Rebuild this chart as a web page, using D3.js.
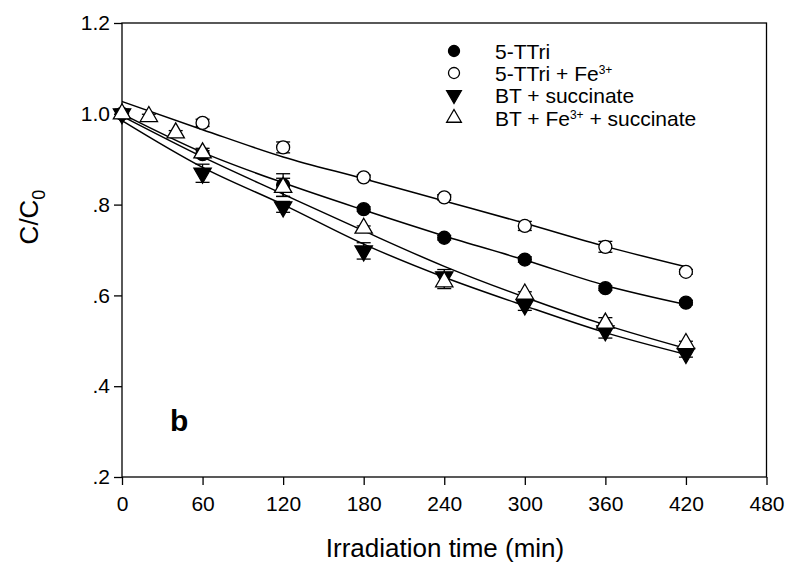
<!DOCTYPE html>
<html>
<head>
<meta charset="utf-8">
<script src="https://cdn.jsdelivr.net/npm/d3@7"></script>
<style>
  body { margin: 0; background: #fff; }
  svg text { font-family: "Liberation Sans", Arial, sans-serif; fill: #000; }
</style>
</head>
<body>
<div id="chart"></div>
<script>
var timesMain = [0, 60, 120, 180, 240, 300, 360, 420];
var timesBTFe = [0, 20, 40, 60, 120, 180, 240, 300, 360, 420];

var tTri      = [1.0, 0.911, 0.843, 0.790, 0.727, 0.679, 0.616, 0.584];
var tTriErr   = [0.005, 0.008, 0.025, 0.005, 0.005, 0.006, 0.005, 0.005];
var tTriFe    = [1.0, 0.980, 0.926, 0.860, 0.816, 0.753, 0.707, 0.652];
var tTriFeErr = [0.005, 0.008, 0.012, 0.005, 0.006, 0.010, 0.012, 0.005];
var btSucc    = [1.0, 0.869, 0.795, 0.698, 0.641, 0.579, 0.522, 0.472];
var btSuccErr = [0.006, 0.020, 0.012, 0.018, 0.016, 0.012, 0.016, 0.008];
var btFeSucc    = [1.0, 0.994, 0.958, 0.914, 0.838, 0.748, 0.630, 0.603, 0.539, 0.494];
var btFeSuccErr = [0.010, 0.005, 0.005, 0.010, 0.020, 0.005, 0.015, 0.005, 0.012, 0.005];

// Fitted curves (at each hour mark)
var fitTimes   = [0, 60, 120, 180, 240, 300, 360, 420];
var fitTTri    = [1.000, 0.915, 0.848, 0.788, 0.731, 0.678, 0.622, 0.580];
var fitTTriFe  = [1.027, 0.965, 0.905, 0.857, 0.808, 0.759, 0.708, 0.663];
var fitBtSucc  = [0.985, 0.882, 0.800, 0.713, 0.640, 0.577, 0.518, 0.470];
var fitBtFeSucc = [0.995, 0.905, 0.823, 0.742, 0.664, 0.596, 0.535, 0.483];

var xTicks = [0, 60, 120, 180, 240, 300, 360, 420, 480];
var yTicks = [0.2, 0.4, 0.6, 0.8, 1.0, 1.2];
var yTickLabels = [".2", ".4", ".6", ".8", "1.0", "1.2"];

var width = 787, height = 569;
var margin = { left: 122, top: 23, right: 20, bottom: 92 };

var svg = d3.select('#chart').append('svg')
    .attr('width', width)
    .attr('height', height);

var x = d3.scaleLinear().domain([0, 480]).range([margin.left, width - margin.right - 0.5]);
var y = d3.scaleLinear().domain([0.2, 1.2]).range([height - margin.bottom, margin.top]);

// frame
svg.append('rect')
    .attr('x', x(0)).attr('y', y(1.2))
    .attr('width', x(480) - x(0)).attr('height', y(0.2) - y(1.2))
    .attr('fill', 'none').attr('stroke', '#000').attr('stroke-width', 1.3);

// axes
var xAxis = svg.append('g')
    .attr('transform', 'translate(0,' + y(0.2) + ')')
    .call(d3.axisBottom(x).tickValues(xTicks).tickSize(8).tickPadding(11));
var yAxis = svg.append('g')
    .attr('transform', 'translate(' + x(0) + ',0)')
    .call(d3.axisLeft(y).tickValues(yTicks).tickSize(8).tickPadding(4)
        .tickFormat(function(d, i) { return yTickLabels[i]; }));
[xAxis, yAxis].forEach(function(g) {
    g.select('.domain').remove();
    g.selectAll('line').attr('stroke', '#000').attr('stroke-width', 1.3);
    g.selectAll('text').style('font-size', '21px').style('font-family', '"Liberation Sans", Arial, sans-serif');
});

// axis titles
svg.append('text')
    .attr('x', 445).attr('y', 557)
    .attr('text-anchor', 'middle')
    .style('font-size', '26px')
    .text('Irradiation time (min)');

var yTitle = svg.append('text')
    .attr('transform', 'translate(38,' + 217 + ') rotate(-90)')
    .attr('text-anchor', 'middle')
    .style('font-size', '26px');
yTitle.append('tspan').text('C/C');
yTitle.append('tspan').attr('dy', 7).style('font-size', '18px').text('0');

// panel label
svg.append('text')
    .attr('x', 170).attr('y', 431)
    .style('font-size', '30px').style('font-weight', 'bold')
    .text('b');

// fitted lines
var line = d3.line()
    .x(function(d) { return x(d[0]); })
    .y(function(d) { return y(d[1]); })
    .curve(d3.curveMonotoneX);

[fitTTri, fitTTriFe, fitBtSucc, fitBtFeSucc].forEach(function(fit) {
    svg.append('path')
        .datum(fitTimes.map(function(t, i) { return [t, fit[i]]; }))
        .attr('d', line)
        .attr('fill', 'none')
        .attr('stroke', '#000')
        .attr('stroke-width', 1.5);
});

var series = [
    { name: '5-TTri', t: timesMain, v: tTri, e: tTriErr, shape: 'circle', fill: '#000' },
    { name: '5-TTri + Fe', t: timesMain, v: tTriFe, e: tTriFeErr, shape: 'circle', fill: '#fff' },
    { name: 'BT + succinate', t: timesMain, v: btSucc, e: btSuccErr, shape: 'down', fill: '#000' },
    { name: 'BT + Fe + succinate', t: timesBTFe, v: btFeSucc, e: btFeSuccErr, shape: 'up', fill: '#fff' }
];

function drawMarker(g, shape, fill, cx, cy, scale) {
    if (shape === 'circle') {
        g.append('circle')
            .attr('cx', cx).attr('cy', cy).attr('r', 6.5 * scale)
            .attr('fill', fill).attr('stroke', '#000').attr('stroke-width', 1.3);
    } else {
        var rot = shape === 'down' ? 180 : 0;
        g.append('path')
            .attr('d', d3.symbol().type(d3.symbolTriangle).size(130 * scale * scale)())
            .attr('transform', 'translate(' + cx + ',' + cy + ') rotate(' + rot + ')')
            .attr('fill', fill).attr('stroke', '#000').attr('stroke-width', 1.3);
    }
}

// error bars then markers
series.forEach(function(s) {
    var g = svg.append('g');
    s.t.forEach(function(t, i) {
        var cx = x(t), y0 = y(s.v[i] - s.e[i]), y1 = y(s.v[i] + s.e[i]);
        g.append('line').attr('x1', cx).attr('x2', cx).attr('y1', y0).attr('y2', y1)
            .attr('stroke', '#000').attr('stroke-width', 1.3);
        [y0, y1].forEach(function(yy) {
            g.append('line').attr('x1', cx - 7).attr('x2', cx + 7).attr('y1', yy).attr('y2', yy)
                .attr('stroke', '#000').attr('stroke-width', 1.3);
        });
    });
    s.t.forEach(function(t, i) {
        drawMarker(g, s.shape, s.fill, x(t), y(s.v[i]), 1);
    });
});

// legend
var legend = svg.append('g');
var legendY = [51, 73, 95, 118];
series.forEach(function(s, i) {
    drawMarker(legend, s.shape, s.fill, 454, legendY[i], 0.85);
    var txt = legend.append('text')
        .attr('x', 495).attr('y', legendY[i] + 8)
        .style('font-size', '21px');
    if (i === 0) {
        txt.text('5-TTri');
    } else if (i === 1) {
        txt.append('tspan').text('5-TTri + Fe');
        txt.append('tspan').attr('dy', -7).style('font-size', '12px').text('3+');
    } else if (i === 2) {
        txt.text('BT + succinate');
    } else {
        txt.append('tspan').text('BT + Fe');
        txt.append('tspan').attr('dy', -7).style('font-size', '12px').text('3+');
        txt.append('tspan').attr('dy', 7).text(' + succinate');
    }
});
</script>
</body>
</html>
